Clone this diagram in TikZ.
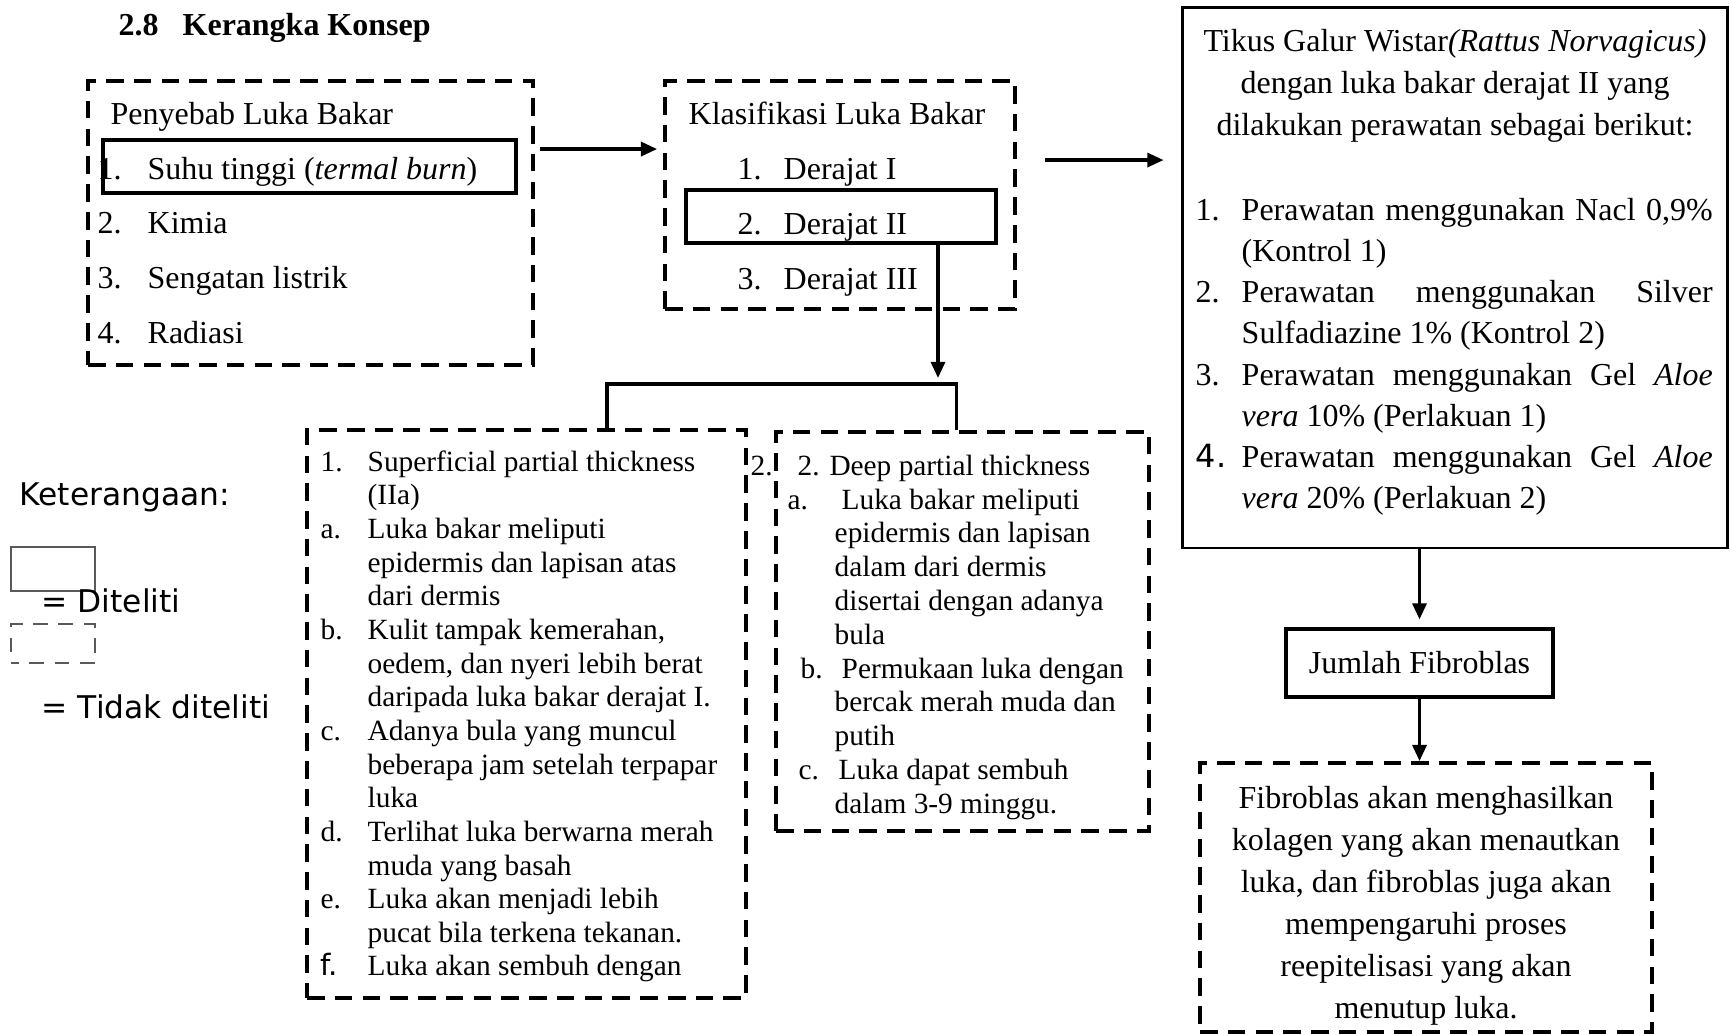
\documentclass[tikz,border=0pt]{standalone}
\usepackage{fontspec}
\setmainfont{Liberation Serif}
\newfontfamily\legendfont{DejaVu Sans}
\usetikzlibrary{arrows.meta}

\begin{document}
\begin{tikzpicture}[
  dbox/.style={draw, line width=1.1pt, dash pattern=on 5pt off 2.9pt, inner sep=0pt},
  sbox/.style={draw, line width=0.9pt, inner sep=0pt},
  arrow/.style={-{Triangle[length=4.6pt,width=4pt]}, line width=0.9pt},
  link/.style={line width=0.9pt},
  txt/.style={anchor=west, inner sep=0pt, yshift=-0.035cm, text height=6.2pt, text depth=1.8pt, font=\fontsize{9.1}{11.95}\selectfont},
  ctxt/.style={inner sep=0pt, align=center, font=\fontsize{9.1}{11.95}\selectfont},
  small/.style={txt, font=\fontsize{8.35}{10}\selectfont},
  legtxt/.style={txt, font=\legendfont\fontsize{8.9}{10}\selectfont},
  legbox/.style={draw=black!65, line width=0.35pt, minimum width=0.84cm, inner sep=0pt}
]
\useasboundingbox (0,0) rectangle (17.30,-10.34);

% Title
\node[txt] (title) at (1.18,-0.24) {\textbf{2.8\hspace{0.75em}Kerangka Konsep}};

% Boxes
\node[dbox, minimum width=4.45cm, minimum height=2.84cm] (cause) at (3.105,-2.23) {};
\node[sbox, minimum width=4.13cm, minimum height=0.53cm] (heat) at (3.095,-1.665) {};
\node[dbox, minimum width=3.50cm, minimum height=2.28cm] (klas) at (8.40,-1.95) {};
\node[sbox, minimum width=3.10cm, minimum height=0.53cm] (deg2) at (8.41,-2.165) {};
\node[sbox, line width=0.85pt, minimum width=5.45cm, minimum height=5.40cm] (tikus) at (14.545,-2.78) {};
\node[dbox, minimum width=4.39cm, minimum height=5.68cm] (sup) at (5.265,-7.14) {};
\node[dbox, minimum width=3.73cm, minimum height=3.99cm] (deep) at (9.625,-6.315) {};
\node[sbox, ctxt, minimum width=2.67cm, minimum height=0.68cm] (jumlah) at (14.195,-6.63) {Jumlah Fibroblas};
\node[dbox, minimum width=4.52cm, minimum height=2.69cm] (fibro) at (14.26,-8.975) {};
\node[ctxt] (fibrotext) at (14.26,-9.06)
  {Fibroblas akan menghasilkan\\ kolagen yang akan menautkan\\ luka, dan fibroblas juga akan\\
   mempengaruhi proses\\ reepitelisasi yang akan\\ menutup luka.};

% Penyebab
\node[txt] (causehead) at (1.10,-1.13) {Penyebab Luka Bakar};
\foreach \n/\t [count=\i] in {1./{Suhu tinggi (\textit{termal burn})}, 2./Kimia, 3./{Sengatan listrik}, 4./Radiasi} {
  \node[txt] (cn\i) at (0.97,{-1.68-0.547*(\i-1)}) {\n};
  \node[txt] (ct\i) at (1.47,{-1.68-0.547*(\i-1)}) {\t};
}

% Klasifikasi
\node[txt] (klashead) at (6.88,-1.13) {Klasifikasi Luka Bakar};
\foreach \n/\t [count=\i] in {1./{Derajat I}, 2./{Derajat II}, 3./{Derajat III}} {
  \node[txt] (kn\i) at (7.37,{-1.68-0.55*(\i-1)}) {\n};
  \node[txt] (kt\i) at (7.83,{-1.68-0.55*(\i-1)}) {\t};
}

% Perlakuan
\node[ctxt] (tikushead) at (14.55,-0.855) {Tikus Galur Wistar\textit{(Rattus Norvagicus)}\\
  dengan luka bakar derajat II yang\\ dilakukan perawatan sebagai berikut:};
\foreach \n/\t [count=\i] in {
  1./{\makebox[4.71cm][s]{Perawatan menggunakan Nacl 0,9\%}},
  /{(Kontrol 1)},
  2./{\makebox[4.71cm][s]{Perawatan menggunakan Silver}},
  /{Sulfadiazine 1\% (Kontrol 2)},
  3./{\makebox[4.71cm][s]{Perawatan menggunakan Gel \textit{Aloe}}},
  /{\textit{vera} 10\% (Perlakuan 1)},
  {\legendfont 4.}/{\makebox[4.71cm][s]{Perawatan menggunakan Gel \textit{Aloe}}},
  /{\textit{vera} 20\% (Perlakuan 2)}} {
  \node[txt] (pn\i) at (11.95,{-2.09-0.412*(\i-1)}) {\n};
  \node[txt] (pt\i) at (12.41,{-2.09-0.412*(\i-1)}) {\t};
}

% Superficial
\foreach \n/\t [count=\i] in {
  1./{Superficial partial thickness},
  /{(IIa)},
  a./{Luka bakar meliputi},
  /{epidermis dan lapisan atas},
  /{dari dermis},
  b./{Kulit tampak kemerahan,},
  /{oedem, dan nyeri lebih berat},
  /{daripada luka bakar derajat I.},
  c./{Adanya bula yang muncul},
  /{beberapa jam setelah terpapar},
  /{luka},
  d./{Terlihat luka berwarna merah},
  /{muda yang basah},
  e./{Luka akan menjadi lebih},
  /{pucat bila terkena tekanan.},
  {\legendfont f.}/{Luka akan sembuh dengan}} {
  \node[small] (sn\i) at (3.20,{-4.60-0.3365*(\i-1)}) {\n};
  \node[small] (st\i) at (3.67,{-4.60-0.3365*(\i-1)}) {\t};
}

% Deep
\node[small] (stray) at (7.50,-4.64) {2.};
\node[small] (deephead) at (7.97,-4.64) {2. Deep partial thickness};
\foreach \x/\t [count=\i from 2] in {8.41/{Luka bakar meliputi}, 8.34/{epidermis dan lapisan},
  8.34/{dalam dari dermis}, 8.34/{disertai dengan adanya}, 8.34/bula, 8.41/{Permukaan luka dengan},
  8.34/{bercak merah muda dan}, 8.34/putih, 8.38/{Luka dapat sembuh}, 8.34/{dalam 3-9 minggu.}}
  \node[small] (dt\i) at (\x,{-4.64-0.338*(\i-1)}) {\t};
\node[small] (dla) at (7.87,-4.978) {a.};
\node[small] (dlb) at (8.00,-6.668) {b.};
\node[small] (dlc) at (7.98,-7.682) {c.};

% Connectors
\coordinate (split) at (9.38,-3.84);
\draw[arrow, shorten <=0.05cm, shorten >=0.06cm] ([yshift=-0.70cm]cause.north east) -- ([yshift=-0.70cm]klas.north west);
\draw[arrow, shorten <=0.28cm, shorten >=0.17cm] ([yshift=-0.81cm]klas.north east) -- ([yshift=-0.81cm]klas.north east -| tikus.west);
\draw[arrow, shorten >=0.06cm] (deg2.south -| split) -- (split);
\draw[link] ([xshift=3.02cm]sup.north west) |- (split) -| ([xshift=1.82cm]deep.north west);
\draw[arrow, shorten >=0.08cm] (tikus.south -| jumlah.north) -- (jumlah.north);
\draw[arrow] (jumlah.south) -- (jumlah.south |- fibro.north);

% Keterangan
\node[legtxt] (ket) at (0.19,-4.94) {Keterangaan:};
\node[legbox, minimum height=0.44cm] (legsolid) at (0.53,-5.69) {};
\node[legtxt] (legsolidtxt) at (0.41,-6.01) {= Diteliti};
\node[legbox, dash pattern=on 4.2pt off 3pt, dash phase=2pt, minimum height=0.39cm] (legdash) at (0.53,-6.435) {};
\node[legtxt] (legdashtxt) at (0.41,-7.07) {= Tidak diteliti};

\end{tikzpicture}
\end{document}
